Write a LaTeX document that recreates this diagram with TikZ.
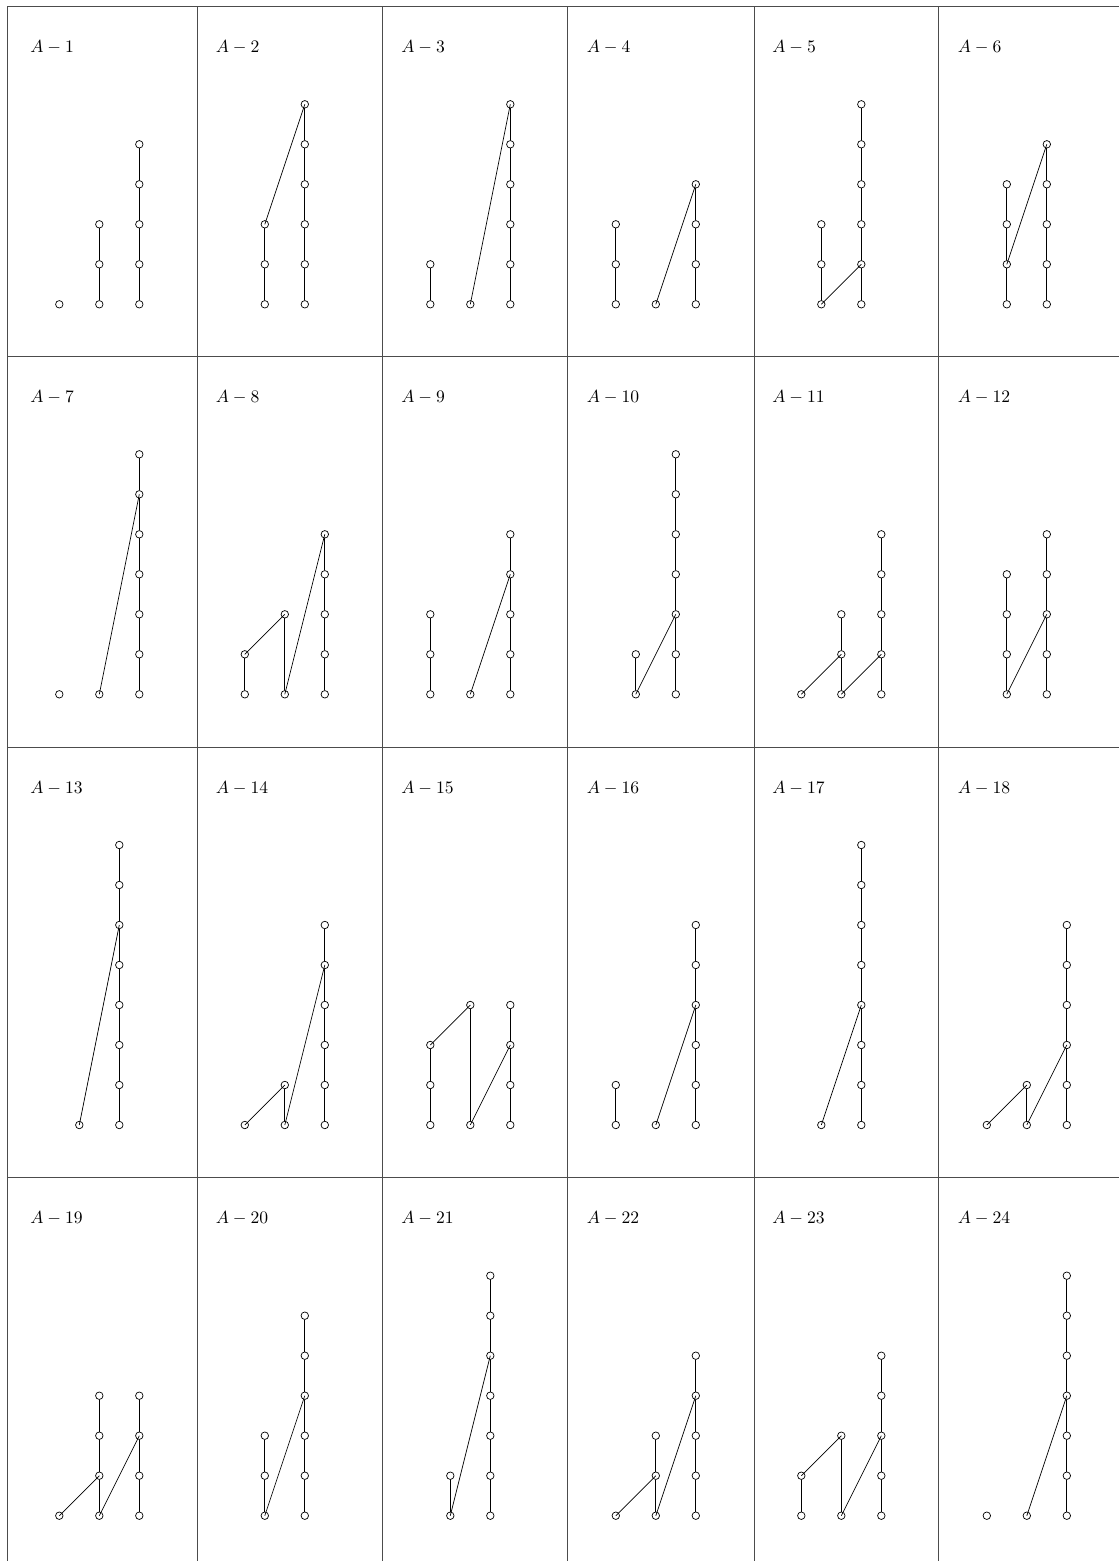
\documentclass[tikz,border=0pt]{standalone}
\usepackage{tikz}

\tikzset{
	vtx/.style={circle, draw, inner sep=0pt, minimum size=1.5mm},
	lbl/.style={anchor=base west, inner sep=0pt},
	tabrule/.style={draw=black!70, line width=0.5pt},
	cell/.style 2 args={shift={(#1,#2)}, x=8mm, y=8mm}
}

% column of #3 vertices at x=#2, named #11, #12, ...
\newcommand{\chain}[3]{%
	\foreach \k in {1,...,#3}
		\node[vtx] (#1\k) at (#2,\k-1) {};
	\ifnum#3>1
		\foreach \k [remember=\k as \j (initially 1)] in {2,...,#3}
			\draw (#1\j) -- (#1\k);
	\fi
}

\begin{document}
\begin{tikzpicture}[x=0.2mm, y=-0.2mm]
	\useasboundingbox (0,0) rectangle (1119,1561);
	
	% table rules
	\foreach \y in {6.7,356.7,747.5,1177.7}
		\draw[tabrule] (7.3,\y) -- (1119,\y);
	\foreach \x in {7.3,197.3,382.7,567.3,754,938.3}
		\draw[tabrule] (\x,6.7) -- (\x,1561);
	
	% labels A-1 ... A-24
	\foreach \t [count=\r from 0] in {6.7,356.7,747.5,1177.7}
		\foreach \c in {0,...,5} {
			\pgfmathtruncatemacro{\n}{6*\r+\c+1}
			\node[lbl] (lab\n) at ({30+185.5*\c},{\t+46}) {$A-\n$};
		}
	
	% first row
	\begin{scope}[cell={99.3}{304.3}] % A-1
		\chain{p1a}{-1}{1} \chain{p1b}{0}{3} \chain{p1c}{1}{5}
	\end{scope}
	\begin{scope}[cell={284.8}{304.3}] % A-2
		\chain{p2a}{-0.5}{3} \chain{p2b}{0.5}{6}
		\draw (p2a3.center) -- (p2b6.center);
	\end{scope}
	\begin{scope}[cell={470.3}{304.3}] % A-3
		\chain{p3a}{-1}{2} \chain{p3b}{0}{1} \chain{p3c}{1}{6}
		\draw (p3b1.center) -- (p3c6.center);
	\end{scope}
	\begin{scope}[cell={655.8}{304.3}] % A-4
		\chain{p4a}{-1}{3} \chain{p4b}{0}{1} \chain{p4c}{1}{4}
		\draw (p4b1.center) -- (p4c4.center);
	\end{scope}
	\begin{scope}[cell={841.3}{304.3}] % A-5
		\chain{p5a}{-0.5}{3} \chain{p5b}{0.5}{6}
		\draw (p5a1.center) -- (p5b2.center);
	\end{scope}
	\begin{scope}[cell={1026.8}{304.3}] % A-6
		\chain{p6a}{-0.5}{4} \chain{p6b}{0.5}{5}
		\draw (p6a2.center) -- (p6b5.center);
	\end{scope}
	
	% second row
	\begin{scope}[cell={99.3}{694.3}] % A-7
		\chain{p7a}{-1}{1} \chain{p7b}{0}{1} \chain{p7c}{1}{7}
		\draw (p7b1.center) -- (p7c6.center);
	\end{scope}
	\begin{scope}[cell={284.8}{694.3}] % A-8
		\chain{p8a}{-1}{2} \chain{p8c}{1}{5}
		\node[vtx] (p8b1) at (0,0) {};
		\node[vtx] (p8b3) at (0,2) {};
		\draw (p8b1) -- (p8b3);
		\draw (p8a2.center) -- (p8b3.center);
		\draw (p8b1.center) -- (p8c5.center);
	\end{scope}
	\begin{scope}[cell={470.3}{694.3}] % A-9
		\chain{p9a}{-1}{3} \chain{p9b}{0}{1} \chain{p9c}{1}{5}
		\draw (p9b1.center) -- (p9c4.center);
	\end{scope}
	\begin{scope}[cell={655.8}{694.3}] % A-10
		\chain{p10a}{-0.5}{2} \chain{p10b}{0.5}{7}
		\draw (p10a1.center) -- (p10b3.center);
	\end{scope}
	\begin{scope}[cell={841.3}{694.3}] % A-11
		\chain{p11a}{-1}{1} \chain{p11b}{0}{3} \chain{p11c}{1}{5}
		\draw (p11a1.center) -- (p11b2.center);
		\draw (p11b1.center) -- (p11c2.center);
	\end{scope}
	\begin{scope}[cell={1026.8}{694.3}] % A-12
		\chain{p12a}{-0.5}{4} \chain{p12b}{0.5}{5}
		\draw (p12a1.center) -- (p12b3.center);
	\end{scope}
	
	% third row
	\begin{scope}[cell={99.3}{1125}] % A-13
		\chain{p13a}{-0.5}{1} \chain{p13b}{0.5}{8}
		\draw (p13a1.center) -- (p13b6.center);
	\end{scope}
	\begin{scope}[cell={284.8}{1125}] % A-14
		\chain{p14a}{-1}{1} \chain{p14b}{0}{2} \chain{p14c}{1}{6}
		\draw (p14a1.center) -- (p14b2.center);
		\draw (p14b1.center) -- (p14c5.center);
	\end{scope}
	\begin{scope}[cell={470.3}{1125}] % A-15
		\chain{p15a}{-1}{3} \chain{p15c}{1}{4}
		\node[vtx] (p15b1) at (0,0) {};
		\node[vtx] (p15b4) at (0,3) {};
		\draw (p15b1) -- (p15b4);
		\draw (p15a3.center) -- (p15b4.center);
		\draw (p15b1.center) -- (p15c3.center);
	\end{scope}
	\begin{scope}[cell={655.8}{1125}] % A-16
		\chain{p16a}{-1}{2} \chain{p16b}{0}{1} \chain{p16c}{1}{6}
		\draw (p16b1.center) -- (p16c4.center);
	\end{scope}
	\begin{scope}[cell={841.3}{1125}] % A-17
		\chain{p17a}{-0.5}{1} \chain{p17b}{0.5}{8}
		\draw (p17a1.center) -- (p17b4.center);
	\end{scope}
	\begin{scope}[cell={1026.8}{1125}] % A-18
		\chain{p18a}{-1}{1} \chain{p18b}{0}{2} \chain{p18c}{1}{6}
		\draw (p18a1.center) -- (p18b2.center);
		\draw (p18b1.center) -- (p18c3.center);
	\end{scope}
	
	% fourth row
	\begin{scope}[cell={99.3}{1515.7}] % A-19
		\chain{p19a}{-1}{1} \chain{p19b}{0}{4} \chain{p19c}{1}{4}
		\draw (p19a1.center) -- (p19b2.center);
		\draw (p19b1.center) -- (p19c3.center);
	\end{scope}
	\begin{scope}[cell={284.8}{1515.7}] % A-20
		\chain{p20a}{-0.5}{3} \chain{p20b}{0.5}{6}
		\draw (p20a1.center) -- (p20b4.center);
	\end{scope}
	\begin{scope}[cell={470.3}{1515.7}] % A-21
		\chain{p21a}{-0.5}{2} \chain{p21b}{0.5}{7}
		\draw (p21a1.center) -- (p21b5.center);
	\end{scope}
	\begin{scope}[cell={655.8}{1515.7}] % A-22
		\chain{p22a}{-1}{1} \chain{p22b}{0}{3} \chain{p22c}{1}{5}
		\draw (p22a1.center) -- (p22b2.center);
		\draw (p22b1.center) -- (p22c4.center);
	\end{scope}
	\begin{scope}[cell={841.3}{1515.7}] % A-23
		\chain{p23a}{-1}{2} \chain{p23c}{1}{5}
		\node[vtx] (p23b1) at (0,0) {};
		\node[vtx] (p23b3) at (0,2) {};
		\draw (p23b1) -- (p23b3);
		\draw (p23a2.center) -- (p23b3.center);
		\draw (p23b1.center) -- (p23c3.center);
	\end{scope}
	\begin{scope}[cell={1026.8}{1515.7}] % A-24
		\chain{p24a}{-1}{1} \chain{p24b}{0}{1} \chain{p24c}{1}{7}
		\draw (p24b1.center) -- (p24c4.center);
	\end{scope}
\end{tikzpicture}
\end{document}
